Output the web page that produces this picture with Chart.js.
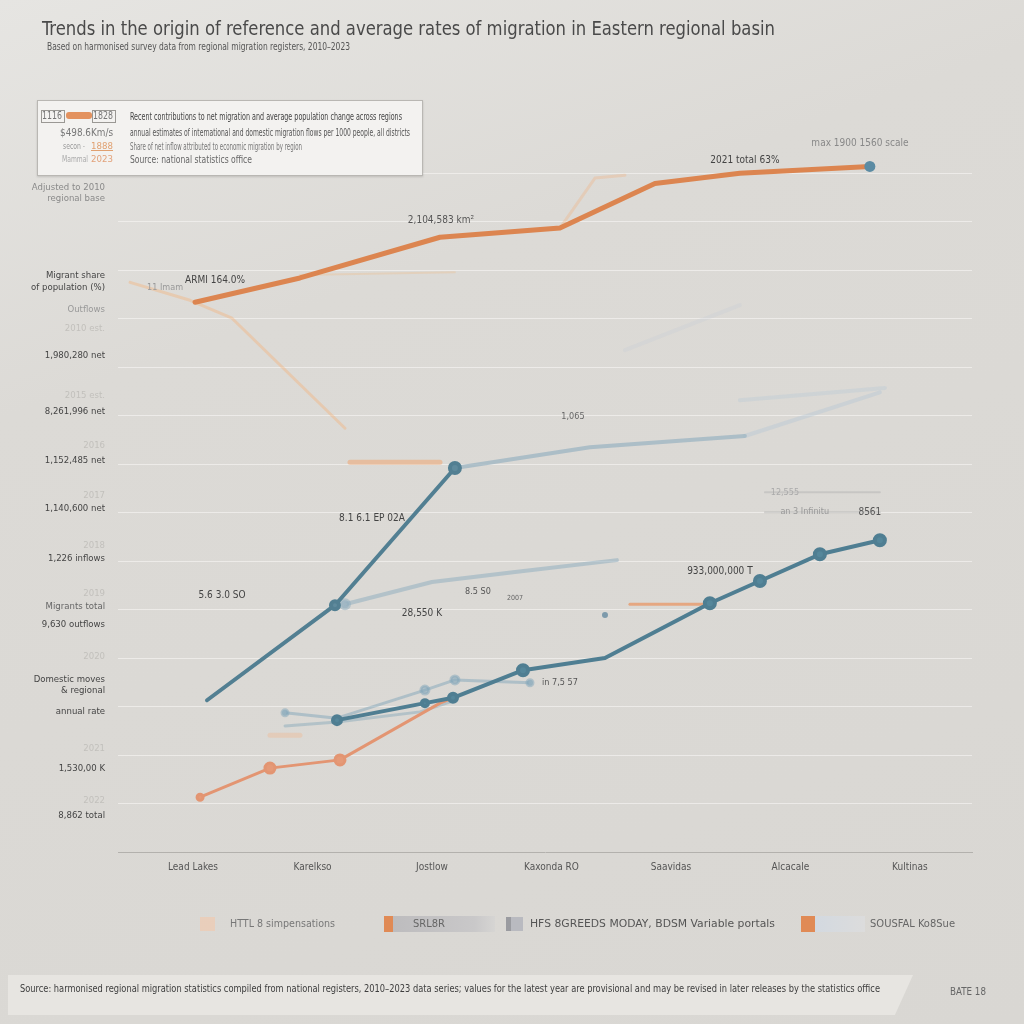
<!DOCTYPE html>
<html><head><meta charset="utf-8">
<script src="https://cdn.jsdelivr.net/npm/chart.js@4.4.1/dist/chart.umd.min.js"></script>
<style>
html,body{margin:0;padding:0;}
body{width:1024px;height:1024px;position:relative;overflow:hidden;background:linear-gradient(160deg,#e6e5e2 0%,#dcdad6 30%,#d9d7d3 100%);font-family:"Liberation Sans Narrow","DejaVu Sans Condensed","Liberation Sans",sans-serif;}
#c{position:absolute;left:0;top:0;z-index:1;}
.fit{position:absolute;white-space:nowrap;transform-origin:0 50%;line-height:1;z-index:3;}
.blk{position:absolute;z-index:2;}
</style></head>
<body>
<canvas id="c" width="1024" height="1024"></canvas>

<div class="fit" data-w="733" style="left:42px;top:18px;font-size:20px;color:#4a4a4a;">Trends in the origin of reference and average rates of migration in Eastern regional basin</div>
<div class="fit" data-w="303" style="left:47px;top:41px;font-size:11px;color:#555;">Based on harmonised survey data from regional migration registers, 2010–2023</div>

<div class="blk" style="left:37px;top:100px;width:384px;height:74px;background:#f3f2f0;border:1px solid #b9b7b3;box-shadow:0 1px 2px rgba(0,0,0,.15);"></div>
<div class="blk" style="left:41px;top:110px;width:22px;height:11px;border:1px solid #9a9894;"></div>
<div class="fit" data-w="20" style="left:42px;top:111px;font-size:10px;color:#777;">1116</div>
<div class="blk" style="left:66px;top:112px;width:26px;height:7px;background:#e3925f;border-radius:3px;"></div>
<div class="blk" style="left:92px;top:110px;width:22px;height:11px;border:1px solid #9a9894;"></div>
<div class="fit" data-w="20" style="left:93px;top:111px;font-size:10px;color:#777;">1828</div>
<div class="fit" data-w="272" style="left:130px;top:111px;font-size:10.5px;color:#444;">Recent contributions to net migration and average population change across regions</div>
<div class="fit" data-w="53" style="left:60px;top:128px;font-size:10px;color:#777;">$498.6Km/s</div>
<div class="fit" data-w="280" style="left:130px;top:128px;font-size:10px;color:#555;">annual estimates of international and domestic migration flows per 1000 people, all districts</div>
<div class="fit" data-w="22" style="left:63px;top:142px;font-size:9px;color:#999;">secon -</div>
<div class="fit" data-w="22" style="left:91px;top:142px;font-size:9px;color:#e0a070;text-decoration:underline;">1888</div>
<div class="fit" data-w="172" style="left:130px;top:142px;font-size:10px;color:#777;">Share of net inflow attributed to economic migration by region</div>
<div class="fit" data-w="26" style="left:62px;top:155px;font-size:9px;color:#aaa;">Mammal</div>
<div class="fit" data-w="22" style="left:91px;top:155px;font-size:9px;color:#e2a27a;">2023</div>
<div class="fit" data-w="122" style="left:130px;top:155px;font-size:10px;color:#666;">Source: national statistics office</div>

<div class="blk" style="left:200px;top:917px;width:15px;height:14px;background:#f0cbb0;opacity:.7;"></div>
<div class="fit" data-w="105" style="left:230px;top:919px;font-size:10px;color:#777;">HTTL 8 simpensations</div>
<div class="blk" style="left:384px;top:916px;width:9px;height:16px;background:#e08a55;"></div>
<div class="blk" style="left:393px;top:916px;width:102px;height:16px;background:linear-gradient(90deg,#bdbcbe,#c9c8c9 80%,#d6d5d3);"></div>
<div class="fit" data-w="32" style="left:413px;top:919px;font-size:10px;color:#666;">SRL8R</div>
<div class="blk" style="left:506px;top:917px;width:5px;height:14px;background:#9a9ba0;"></div>
<div class="blk" style="left:511px;top:917px;width:12px;height:14px;background:#b9bac0;"></div>
<div class="fit" data-w="245" style="left:530px;top:919px;font-size:10px;color:#555;">HFS 8GREEDS MODAY, BDSM Variable portals</div>
<div class="blk" style="left:801px;top:916px;width:14px;height:16px;background:#e08a55;"></div>
<div class="blk" style="left:815px;top:916px;width:50px;height:16px;background:linear-gradient(90deg,#d3d9e0,#dcdcdc);"></div>
<div class="fit" data-w="85" style="left:870px;top:919px;font-size:10px;color:#666;">SOUSFAL Ko8Sue</div>

<div class="blk" style="left:8px;top:975px;width:905px;height:40px;background:#e7e5e1;clip-path:polygon(0 0,100% 0,98% 100%,0 100%);"></div>
<div class="fit" data-w="860" style="left:20px;top:983px;font-size:11px;color:#3d3d3d;">Source: harmonised regional migration statistics compiled from national registers, 2010–2023 data series; values for the latest year are provisional and may be revised in later releases by the statistics office</div>
<div class="fit" data-w="36" style="left:950px;top:987px;font-size:10px;color:#666;">BATE 18</div>

<script>
// ---- data ----
const xLabels = ["Lead Lakes","Karelkso","Jostlow","Kaxonda RO","Saavidas","Alcacale","Kultinas"];
const gridValues = [0,1,2,3,4,5,6,7,8,9,10,11,12,13,14];
const yTickValues = [13.59,11.77,11.18,10.80,10.23,9.42,9.09,8.39,8.08,7.36,7.09,6.33,6.06,5.34,5.07,4.70,4.04,3.44,2.89,2.14,1.73,1.07,0.76];
const yTickLabels = [["Adjusted to 2010","regional base"],["Migrant share","of population (%)"],"Outflows","2010 est.","1,980,280 net","2015 est.","8,261,996 net","2016","1,152,485 net","2017","1,140,600 net","2018","1,226 inflows","2019","Migrants total","9,630 outflows","2020",["Domestic moves","& regional"],"annual rate","2021","1,530,00 K","2022","8,862 total"];

const orangeX = [0.017,0.895,2.067,3.071,3.866,4.577,5.665];
const orangeY = [11.34,11.84,12.68,12.87,13.79,14.00,14.14];
const endDotX = [5.665];
const endDotY = [14.14];
const steepX = [0.117,1.188,2.192];
const steepY = [3.13,5.09,7.92];
const steepLightX = [2.192,3.322,4.619];
const steepLightY = [7.92,8.35,8.58];
const steepFaintX = [4.619,5.749];
const steepFaintY = [8.58,9.48];
const blueLowX = [1.205,1.941,2.176,2.762,3.448,4.326,4.745,5.247,5.749];
const blueLowY = [2.72,3.07,3.18,3.75,4.00,5.13,5.59,6.14,6.43];
const orangeLowX = [0.059,0.644,1.230,2.067,2.176];
const orangeLowY = [1.13,1.73,1.90,3.07,3.18];
const ghostOrangeAX = [-0.527,-0.025,0.326,1.272];
const ghostOrangeAY = [11.75,11.38,11.01,8.74];
const ghostOrangeBX = [3.071,3.364,3.615];
const ghostOrangeBY = [12.87,13.90,13.96];
const ghostOrangeCX = [0.895,2.192];
const ghostOrangeCY = [11.90,11.96];
const stubOrangeAX = [1.314,2.067];
const stubOrangeAY = [8.04,8.04];
const stubOrangeBX = [3.657,4.285];
const stubOrangeBY = [5.11,5.11];
const stubOrangeCX = [0.644,0.895];
const stubOrangeCY = [2.41,2.41];
const lightBlueAX = [0.770,1.205,1.941,2.192,2.820];
const lightBlueAY = [2.87,2.76,3.34,3.55,3.49];
const lightBlueBX = [0.770,1.205,1.900,2.192];
const lightBlueBY = [2.60,2.68,2.89,3.13];
const lightBlueCX = [1.272,2.000,2.678,3.548];
const lightBlueCY = [5.11,5.57,5.77,6.02];
const faintBlueAX = [3.615,4.577];
const faintBlueAY = [10.35,11.28];
const faintBlueBX = [4.577,5.791];
const faintBlueBY = [9.32,9.57];
const leaderAX = [4.787,5.749];
const leaderAY = [7.42,7.42];
const leaderBX = [4.787,5.749];
const leaderBY = [7.01,7.01];
const strayDotX = [3.448];
const strayDotY = [4.89];

const annoText = ["2,104,583 km²","ARMI 164.0%","11 Imam","2021 total 63%","max 1900 1560 scale","8.1 6.1 EP 02A","5.6 3.0 SO","8.5 S0","2007","28,550 K","1,065","in 7,5 57","933,000,000 T","12,555","an 3 Infinitu","8561"];
const annoX = [2.075,0.184,-0.234,4.619,5.582,1.498,0.243,2.385,2.695,1.916,3.180,3.071,4.410,4.954,5.120,5.665];
const annoY = [13.03,11.79,11.65,14.27,14.62,6.89,5.30,5.36,5.24,4.93,8.97,3.49,5.79,7.42,7.01,7.01];

// ---- styles ----
const FONT = '"Liberation Sans Narrow","DejaVu Sans Condensed","Liberation Sans",sans-serif';
Chart.defaults.font.family = FONT;
const yTickColors = ["#8a8a8a","#444","#999","#c2c0bc","#444","#c2c0bc","#444","#c2c0bc","#444","#c2c0bc","#444","#c2c0bc","#444","#c2c0bc","#666","#444","#c2c0bc","#444","#444","#c2c0bc","#444","#c2c0bc","#444"];
const annoStyle = [
 ["10px","#555"],["10px","#444"],["9px","#999"],["10px","#444"],["10px","#888"],["10px","#444"],["10px","#444"],["9px","#555"],["7px","#666"],["10px","#444"],["9px","#666"],["9px","#555"],["10px","#444"],["9px","#aaa"],["9px","#999"],["10px","#555"]
];
const pts = (xs, ys) => xs.map((v,i)=>({x:v,y:ys[i]}));
function ds(xs, ys, color, width, order, extra){
  return Object.assign({data:pts(xs,ys),borderColor:color,backgroundColor:color,borderWidth:width,pointRadius:0,tension:0,order:order,borderCapStyle:'round',borderJoinStyle:'round'},extra||{});
}
const datasets = [
  ds(endDotX,endDotY,'#5b8ba3',0,0,{pointRadius:5.5,showLine:false}),
  ds(orangeX,orangeY,'#dc8550',5,1),
  ds(steepX,steepY,'#527f92',4,1,{pointRadius:[0,4,5],pointBackgroundColor:'#5f8a9c'}),
  ds(blueLowX,blueLowY,'#4f7e92',4,1,{pointRadius:[4,3,4,5,0,5,5,5,5],pointBackgroundColor:'#55879b'}),
  ds(orangeLowX,orangeLowY,'#e39572',3,2,{pointRadius:[3,5,5,0,0],pointBackgroundColor:'#e59a78'}),
  ds(steepLightX,steepLightY,'rgba(160,182,195,0.8)',4,3),
  ds(steepFaintX,steepFaintY,'rgba(180,198,212,0.4)',4,4),
  ds(lightBlueAX,lightBlueAY,'rgba(130,165,185,0.5)',3,4,{pointRadius:[3,0,4,4,3]}),
  ds(lightBlueBX,lightBlueBY,'rgba(120,160,180,0.4)',3,4),
  ds(lightBlueCX,lightBlueCY,'rgba(145,175,192,0.55)',4,4,{pointRadius:[4,0,0,0]}),
  ds(faintBlueAX,faintBlueAY,'rgba(190,202,215,0.22)',4,5),
  ds(faintBlueBX,faintBlueBY,'rgba(180,198,215,0.32)',4,5),
  ds(ghostOrangeAX,ghostOrangeAY,'rgba(242,178,125,0.42)',3,5),
  ds(ghostOrangeBX,ghostOrangeBY,'rgba(242,175,120,0.32)',3,5),
  ds(ghostOrangeCX,ghostOrangeCY,'rgba(242,185,130,0.3)',2,5),
  ds(stubOrangeAX,stubOrangeAY,'rgba(238,165,115,0.55)',5,5),
  ds(stubOrangeBX,stubOrangeBY,'rgba(232,150,100,0.75)',3,5),
  ds(stubOrangeCX,stubOrangeCY,'rgba(240,185,145,0.4)',5,5),
  ds(leaderAX,leaderAY,'rgba(175,175,175,0.45)',2,5),
  ds(leaderBX,leaderBY,'rgba(175,175,175,0.45)',2,5),
  ds(strayDotX,strayDotY,'#7d9aab',0,5,{pointRadius:3,showLine:false})
];

const annoPlugin = {id:'anno', afterDatasetsDraw(chart){
  const {ctx, scales} = chart;
  ctx.save();
  ctx.textAlign='center'; ctx.textBaseline='middle';
  annoText.forEach((t,i)=>{
    ctx.font = annoStyle[i][0]+' '+FONT;
    ctx.fillStyle = annoStyle[i][1];
    ctx.fillText(t, scales.x.getPixelForValue(annoX[i]), scales.y.getPixelForValue(annoY[i]));
  });
  ctx.restore();
}};

new Chart(document.getElementById('c'), {
  type:'line',
  data:{datasets},
  plugins:[annoPlugin],
  options:{
    responsive:false, animation:false, devicePixelRatio:1,
    layout:{padding:{left:0,right:52,top:149,bottom:140}},
    plugins:{legend:{display:false},tooltip:{enabled:false}},
    elements:{line:{fill:false}},
    scales:{
      x:{type:'linear',min:-0.628,max:6.52,
        afterBuildTicks:s=>{s.ticks = xLabels.map((_,i)=>({value:i}));},
        afterFit:s=>{s.height=32;},
        grid:{display:false,drawTicks:false},
        border:{display:true,color:'#b3b1ad',width:1},
        ticks:{callback:(v,i)=>xLabels[i],color:'#555',font:{size:10},padding:9,maxRotation:0,autoSkip:false}
      },
      y:{type:'linear',position:'left',min:0,max:14.5,
        afterBuildTicks:s=>{s.ticks = yTickValues.map(v=>({value:v}));},
        afterFit:s=>{s.width=118;},
        grid:{display:false,drawTicks:false},border:{display:false},
        ticks:{callback:(v,i)=>yTickLabels[i],color:c=>yTickColors[c.index],font:{size:9.5},padding:13,autoSkip:false}
      },
      y2:{type:'linear',position:'right',min:0,max:14.5,
        afterBuildTicks:s=>{s.ticks = gridValues.map(v=>({value:v}));},
        afterFit:s=>{s.width=0;},
        grid:{color:'rgba(248,247,245,0.6)',lineWidth:1,drawTicks:false},
        border:{display:false},
        ticks:{display:false}
      }
    }
  }
});

document.querySelectorAll('.fit').forEach(el=>{
  const w = parseFloat(el.dataset.w);
  const cur = el.getBoundingClientRect().width;
  if (cur>0) el.style.transform = 'scaleX('+(w/cur)+')';
});
</script>
</body></html>
